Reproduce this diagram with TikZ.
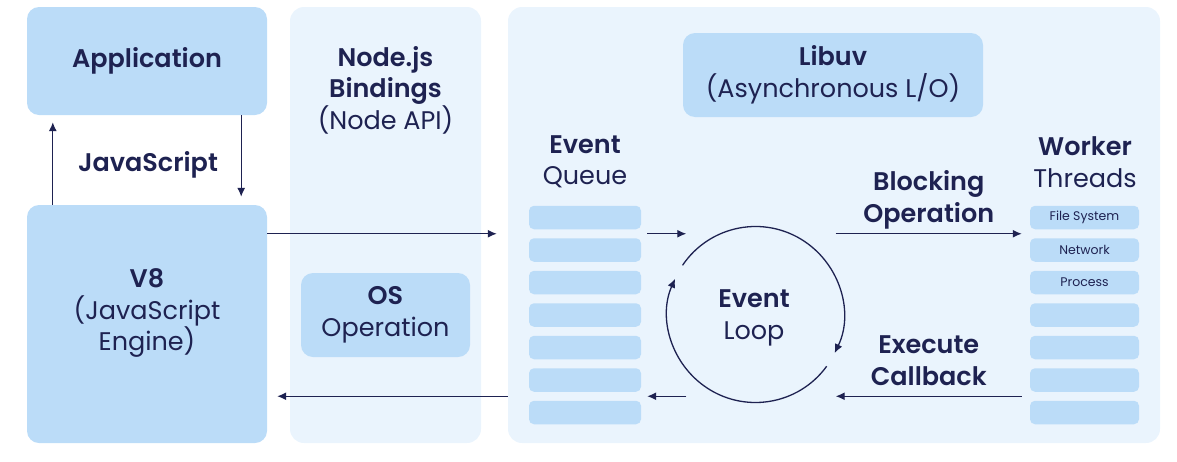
\documentclass[tikz,border=0pt]{standalone}
\usepackage{fontspec}
\setmainfont{Poppins}[BoldFont={Poppins SemiBold}]
\usepackage{tikz}
\usetikzlibrary{calc, arrows.meta, positioning}
\definecolor{navy}{HTML}{1E2251}
\definecolor{boxblue}{HTML}{BBDCF8}
\definecolor{panelblue}{HTML}{EAF4FD}

\begin{document}
\begin{tikzpicture}[x=1pt, y=-1pt,
        every node/.style={text=navy},
        lbl/.style={align=center, font=\fontsize{25.5}{31.5}\selectfont},
        box/.style={fill=boxblue, rounded corners=12pt, lbl},
        panel/.style={fill=panelblue, rounded corners=14pt},
        bar/.style={fill=boxblue, rounded corners=5pt, minimum height=23.5pt, font=\fontsize{12.5}{14}\selectfont},
        arr/.style={draw=navy, line width=1.3pt, -{Latex[length=9pt,width=8pt]}}]
            \useasboundingbox (0,0) rectangle (1177,461);
            % panels
            \node[panel, minimum width=191pt, minimum height=436pt] (bind) at (385.5,225) {};
            \node[panel, minimum width=652pt, minimum height=436pt] (uv) at (834,225) {};
            % left column
            \node[box, minimum width=240pt, minimum height=108pt] (app) at (147,61) {\bfseries Application};
            \node[box, minimum width=240pt, minimum height=238pt] (v8) at (147,324) {};
            \node[lbl] (v8txt) at (147,313) {{\bfseries V8}\\(JavaScript\\Engine)};
            \node[lbl] (js) at (148,165) {\bfseries JavaScript};
            \draw[arr] ($(v8.north west)+(26,0)$) -- ($(app.south west)+(26,7)$);
            \draw[arr] ($(app.south east)+(-26,0)$) -- ($(v8.north east)+(-26,-8)$);
            % bindings
            \node[lbl] (bindtxt) at (385.5,90) {{\bfseries Node.js}\\{\bfseries Bindings}\\(Node API)};
            \node[box, minimum width=169pt, minimum height=84pt] (os) at (385.5,315) {{\bfseries OS}\\Operation};
            % libuv
            \node[box, minimum width=300pt, minimum height=84pt] (libuv) at (833,75) {{\bfseries Libuv}\\(Asynchronous L/O)};
            \node[lbl] (queuetxt) at (585,162) {{\bfseries Event}\\Queue};
            \node[lbl] (workertxt) at (1085,162) {{\bfseries Worker}\\Threads};
            \foreach \i/\t in {1/File System,2/Network,3/Process,4/,5/,6/,7/} {
                \node[bar, minimum width=112pt] (q\i) at (585,185+32.5*\i) {};
                \node[bar, minimum width=109pt] (w\i) at (1084.5,185+32.5*\i) {\t};
            }
            \coordinate (inq) at ($(q1.west)!0.5!(q2.west)$);
            \coordinate (outq) at ($(q6.west)!0.5!(q7.west)$);
            % event loop
            \node[lbl, circle, minimum size=176pt] (loop) at (755.5,314.5) {};
            \node[lbl] (looptxt) at (754,318) {{\bfseries Event}\\Loop};
            \draw[arr] (loop.center) ++(146:88pt) arc[start angle=146, end angle=-26, radius=88pt];
            \draw[arr] (loop.center) ++(-36:88pt) arc[start angle=-36, end angle=-204, radius=88pt];
            % connectors
            \draw[arr] (v8.east |- inq) -- ($(inq)+(-32,0)$);
            \draw[arr] (uv.west |- outq) -- ($(v8.east |- outq)+(10,0)$);
            \draw[arr] ($(q1.east |- inq)+(6,0)$) -- ($(loop.west |- inq)+(19,0)$);
            \draw[arr] ($(loop.west |- outq)+(19,0)$) -- ($(q7.east |- outq)+(6,0)$);
            \draw[arr] ($(loop.east |- inq)+(-8,0)$) -- ($(w1.west |- inq)+(-8,0)$)
                node[midway, above=1pt, lbl] {{\bfseries Blocking}\\{\bfseries Operation}};
            \draw[arr] ($(w7.west |- outq)+(-8,0)$) -- ($(loop.east |- outq)+(-8,0)$)
                node[midway, above=7pt, lbl] {{\bfseries Execute}\\{\bfseries Callback}};
        \end{tikzpicture}
\end{document}
